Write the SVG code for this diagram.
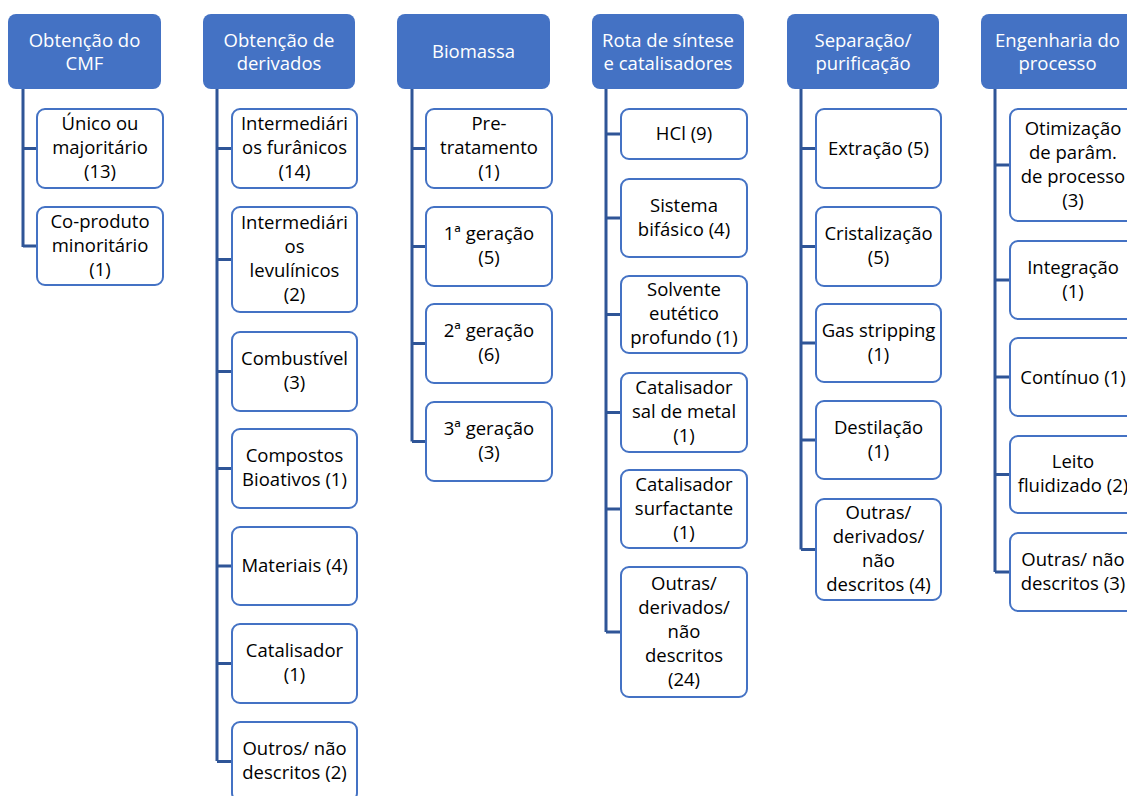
<svg xmlns="http://www.w3.org/2000/svg" width="1127" height="796" viewBox="0 0 1127 796">
  <style>
    .hdr rect { fill: #4472C4; }
    .hdr text { fill: #FFFFFF; }
    .item rect { fill: #FFFFFF; stroke: #4472C4; stroke-width: 2; }
    .item text { fill: #000000; }
    text { font-family: "Open Sans", Lato, sans-serif; font-size: 18.5px; text-anchor: middle; }
    #connectors path { fill: none; stroke: #2F5597; stroke-width: 3; }
  </style>
  <rect width="1127" height="796" fill="#FFFFFF"/>

  <!-- connectors: one spine per column, with a branch to every item -->
  <g id="connectors">
    <path d="M23 89 V247 M23 148.5 H37 M23 246 H37"/>
    <path d="M217 89 V761 M217 148.5 H232 M217 259.5 H232 M217 371.5 H232 M217 468.5 H232 M217 566 H232 M217 663.5 H232 M217 761.5 H232"/>
    <path d="M412 89 V441.5 M412 148.5 H426 M412 246.5 H426 M412 343.5 H426 M412 441.5 H426"/>
    <path d="M606 89 V632 M606 134 H621 M606 218 H621 M606 314.5 H621 M606 412.5 H621 M606 509 H621 M606 632 H621"/>
    <path d="M801 89 V549.5 M801 148.5 H816 M801 246.5 H816 M801 343 H816 M801 440 H816 M801 549.5 H816"/>
    <path d="M995 89 V572 M995 165 H1010 M995 280 H1010 M995 377 H1010 M995 474.5 H1010 M995 572 H1010"/>
  </g>

  <!-- column 1 -->
  <g id="h1" class="hdr"><rect x="8" y="14" width="153" height="75" rx="8"/>
    <text><tspan x="84.5" y="47">Obtenção do</tspan><tspan x="84.5" y="70">CMF</tspan></text></g>
  <g id="c1-1" class="item"><rect x="37" y="109" width="126" height="79" rx="8"/>
    <text><tspan x="100" y="130">Único ou</tspan><tspan x="100" y="154">majoritário</tspan><tspan x="100" y="178">(13)</tspan></text></g>
  <g id="c1-2" class="item"><rect x="37" y="207" width="126" height="78" rx="8"/>
    <text><tspan x="100" y="227.5">Co-produto</tspan><tspan x="100" y="251.5">minoritário</tspan><tspan x="100" y="275.5">(1)</tspan></text></g>

  <!-- column 2 -->
  <g id="h2" class="hdr"><rect x="203" y="14" width="152" height="75" rx="8"/>
    <text><tspan x="279" y="47">Obtenção de</tspan><tspan x="279" y="70">derivados</tspan></text></g>
  <g id="c2-1" class="item"><rect x="232" y="109" width="125" height="79" rx="8"/>
    <text><tspan x="294.5" y="130">Intermediári</tspan><tspan x="294.5" y="154">os furânicos</tspan><tspan x="294.5" y="178">(14)</tspan></text></g>
  <g id="c2-2" class="item"><rect x="232" y="207" width="125" height="105" rx="8"/>
    <text><tspan x="294.5" y="229">Intermediári</tspan><tspan x="294.5" y="253">os</tspan><tspan x="294.5" y="277">levulínicos</tspan><tspan x="294.5" y="301">(2)</tspan></text></g>
  <g id="c2-3" class="item"><rect x="232" y="332" width="125" height="79" rx="8"/>
    <text><tspan x="294.5" y="365">Combustível</tspan><tspan x="294.5" y="389">(3)</tspan></text></g>
  <g id="c2-4" class="item"><rect x="232" y="429" width="125" height="79" rx="8"/>
    <text><tspan x="294.5" y="462">Compostos</tspan><tspan x="294.5" y="486">Bioativos (1)</tspan></text></g>
  <g id="c2-5" class="item"><rect x="232" y="527" width="125" height="78" rx="8"/>
    <text><tspan x="294.5" y="572">Materiais (4)</tspan></text></g>
  <g id="c2-6" class="item"><rect x="232" y="624" width="125" height="79" rx="8"/>
    <text><tspan x="294.5" y="657">Catalisador</tspan><tspan x="294.5" y="681">(1)</tspan></text></g>
  <g id="c2-7" class="item"><rect x="232" y="722" width="125" height="79" rx="8"/>
    <text><tspan x="294.5" y="755">Outros/ não</tspan><tspan x="294.5" y="779">descritos (2)</tspan></text></g>

  <!-- column 3 -->
  <g id="h3" class="hdr"><rect x="397" y="14" width="153" height="75" rx="8"/>
    <text><tspan x="473.5" y="58">Biomassa</tspan></text></g>
  <g id="c3-1" class="item"><rect x="426" y="109" width="126" height="79" rx="8"/>
    <text><tspan x="489" y="130">Pre-</tspan><tspan x="489" y="154">tratamento</tspan><tspan x="489" y="178">(1)</tspan></text></g>
  <g id="c3-2" class="item"><rect x="426" y="207" width="126" height="79" rx="8"/>
    <text><tspan x="489" y="240">1ª geração</tspan><tspan x="489" y="264">(5)</tspan></text></g>
  <g id="c3-3" class="item"><rect x="426" y="304" width="126" height="79" rx="8"/>
    <text><tspan x="489" y="337">2ª geração</tspan><tspan x="489" y="361">(6)</tspan></text></g>
  <g id="c3-4" class="item"><rect x="426" y="402" width="126" height="79" rx="8"/>
    <text><tspan x="489" y="435">3ª geração</tspan><tspan x="489" y="459">(3)</tspan></text></g>

  <!-- column 4 -->
  <g id="h4" class="hdr"><rect x="592" y="14" width="152" height="75" rx="8"/>
    <text><tspan x="668" y="47">Rota de síntese</tspan><tspan x="668" y="70">e catalisadores</tspan></text></g>
  <g id="c4-1" class="item"><rect x="621" y="109" width="126" height="50" rx="8"/>
    <text><tspan x="684" y="140">HCl (9)</tspan></text></g>
  <g id="c4-2" class="item"><rect x="621" y="179" width="126" height="78" rx="8"/>
    <text><tspan x="684" y="211.5">Sistema</tspan><tspan x="684" y="235.5">bifásico (4)</tspan></text></g>
  <g id="c4-3" class="item"><rect x="621" y="276" width="126" height="77" rx="8"/>
    <text><tspan x="684" y="296">Solvente</tspan><tspan x="684" y="320">eutético</tspan><tspan x="684" y="344">profundo (1)</tspan></text></g>
  <g id="c4-4" class="item"><rect x="621" y="373" width="126" height="79" rx="8"/>
    <text><tspan x="684" y="394">Catalisador</tspan><tspan x="684" y="418">sal de metal</tspan><tspan x="684" y="442">(1)</tspan></text></g>
  <g id="c4-5" class="item"><rect x="621" y="470" width="126" height="78" rx="8"/>
    <text><tspan x="684" y="490.5">Catalisador</tspan><tspan x="684" y="514.5">surfactante</tspan><tspan x="684" y="538.5">(1)</tspan></text></g>
  <g id="c4-6" class="item"><rect x="621" y="567" width="126" height="130" rx="8"/>
    <text><tspan x="684" y="589.5">Outras/</tspan><tspan x="684" y="613.5">derivados/</tspan><tspan x="684" y="637.5">não</tspan><tspan x="684" y="661.5">descritos</tspan><tspan x="684" y="685.5">(24)</tspan></text></g>

  <!-- column 5 -->
  <g id="h5" class="hdr"><rect x="787" y="14" width="152" height="75" rx="8"/>
    <text><tspan x="863" y="47">Separação/</tspan><tspan x="863" y="70">purificação</tspan></text></g>
  <g id="c5-1" class="item"><rect x="816" y="109" width="125" height="79" rx="8"/>
    <text><tspan x="878.5" y="154.5">Extração (5)</tspan></text></g>
  <g id="c5-2" class="item"><rect x="816" y="207" width="125" height="79" rx="8"/>
    <text><tspan x="878.5" y="240">Cristalização</tspan><tspan x="878.5" y="264">(5)</tspan></text></g>
  <g id="c5-3" class="item"><rect x="816" y="304" width="125" height="78" rx="8"/>
    <text><tspan x="878.5" y="336.5">Gas stripping</tspan><tspan x="878.5" y="360.5">(1)</tspan></text></g>
  <g id="c5-4" class="item"><rect x="816" y="401" width="125" height="78" rx="8"/>
    <text><tspan x="878.5" y="433.5">Destilação</tspan><tspan x="878.5" y="457.5">(1)</tspan></text></g>
  <g id="c5-5" class="item"><rect x="816" y="499" width="125" height="101" rx="8"/>
    <text><tspan x="878.5" y="519">Outras/</tspan><tspan x="878.5" y="543">derivados/</tspan><tspan x="878.5" y="567">não</tspan><tspan x="878.5" y="591">descritos (4)</tspan></text></g>

  <!-- column 6 -->
  <g id="h6" class="hdr"><rect x="981" y="14" width="153" height="75" rx="8"/>
    <text><tspan x="1057.5" y="47">Engenharia do</tspan><tspan x="1057.5" y="70">processo</tspan></text></g>
  <g id="c6-1" class="item"><rect x="1010" y="109" width="126" height="112" rx="8"/>
    <text><tspan x="1073" y="134.5">Otimização</tspan><tspan x="1073" y="158.5">de parâm.</tspan><tspan x="1073" y="182.5">de processo</tspan><tspan x="1073" y="206.5">(3)</tspan></text></g>
  <g id="c6-2" class="item"><rect x="1010" y="241" width="126" height="78" rx="8"/>
    <text><tspan x="1073" y="273.5">Integração</tspan><tspan x="1073" y="297.5">(1)</tspan></text></g>
  <g id="c6-3" class="item"><rect x="1010" y="338" width="126" height="78" rx="8"/>
    <text><tspan x="1073" y="383.5">Contínuo (1)</tspan></text></g>
  <g id="c6-4" class="item"><rect x="1010" y="436" width="126" height="77" rx="8"/>
    <text><tspan x="1073" y="468">Leito</tspan><tspan x="1073" y="492">fluidizado (2)</tspan></text></g>
  <g id="c6-5" class="item"><rect x="1010" y="533" width="126" height="78" rx="8"/>
    <text><tspan x="1073" y="565.5">Outras/ não</tspan><tspan x="1073" y="589.5">descritos (3)</tspan></text></g>
</svg>
